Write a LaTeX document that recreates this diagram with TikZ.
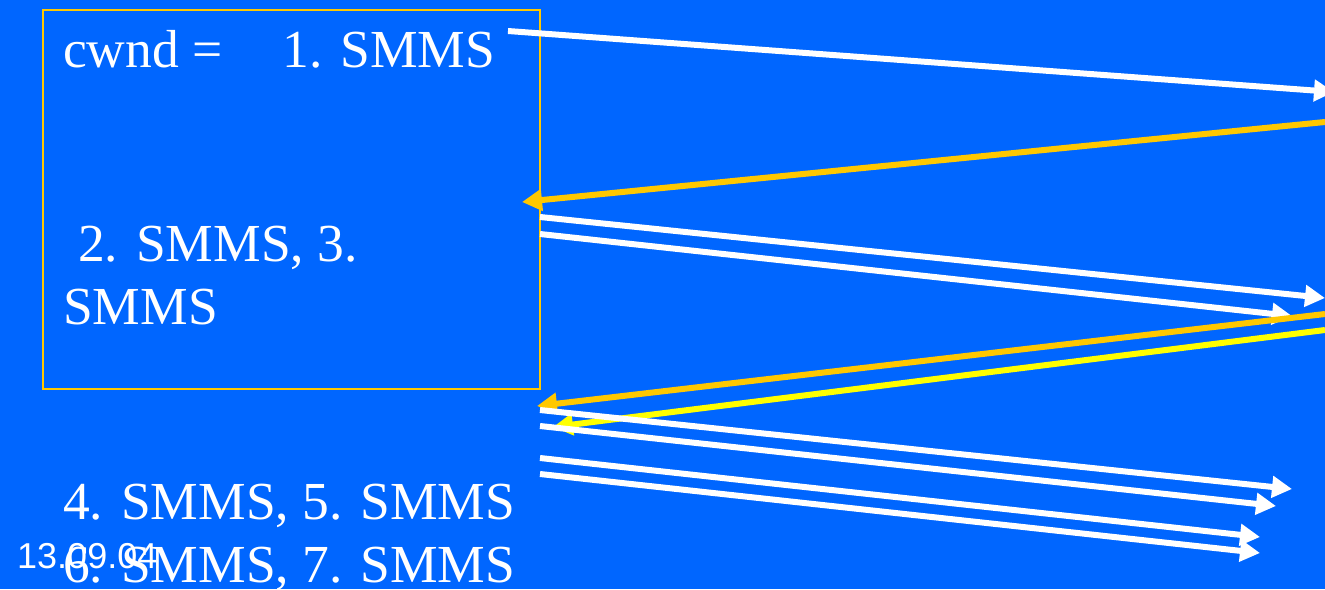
\documentclass[tikz,border=0pt]{standalone}
\usepackage{fontspec}
\setmainfont{Liberation Serif}
\newfontfamily\datefont{Liberation Sans}
\usetikzlibrary{arrows.meta}
\definecolor{bgblue}{HTML}{0066FF}
\definecolor{goldline}{HTML}{FFC800}
\definecolor{yelline}{HTML}{FFFF00}
\tikzset{
  seg/.style={line width=6pt, -{Triangle[length=20pt,width=21pt]}},
  wseg/.style={seg, white},
  gseg/.style={seg, goldline},
  yseg/.style={seg, yelline},
  txt/.style={anchor=base west, inner sep=0pt, text=white, font=\fontsize{53.5}{63}\selectfont},
}
\begin{document}
\begin{tikzpicture}[x=1pt,y=-1pt]
\fill[bgblue] (0,0) rectangle (1325,589);
\useasboundingbox (0,0) rectangle (1325,589);
\draw[goldline, line width=1.5pt] (43,10) rectangle (540,389);
\node[txt] (t1) at (63,67) {cwnd =\hspace{60pt}1. SMMS};
\node[txt] (t2) at (63,261) {\hspace{15pt}2. SMMS, 3.};
\node[txt] (t3) at (63,324) {SMMS};
\node[txt] (t4) at (63,519) {4. SMMS, 5. SMMS};
\node[txt] (t5) at (63,582) {6. SMMS, 7. SMMS};
\node[anchor=base west, inner sep=0pt, text=white, font=\datefont\fontsize{36}{40}\selectfont] (date) at (17,568) {13.09.04};
% end points
\coordinate (a1) at (508,31);   \coordinate (b1) at (1334,92);
\coordinate (a2) at (1325,122); \coordinate (b2) at (522,202);
\coordinate (a3) at (540,217);  \coordinate (b3) at (1325,298);
\coordinate (a4) at (540,234);  \coordinate (b4) at (1292,316);
\coordinate (a5) at (1325,314); \coordinate (b5) at (537,406);
\coordinate (a6) at (1325,330); \coordinate (b6) at (553,427);
\coordinate (a7) at (540,410);  \coordinate (b7) at (1292,489);
\coordinate (a8) at (540,426);  \coordinate (b8) at (1276,506);
\coordinate (a9) at (540,458);  \coordinate (b9) at (1260,537);
\coordinate (a10) at (540,474); \coordinate (b10) at (1260,553);
\draw[wseg] (a1) -- (b1);
\draw[gseg] (a2) -- (b2);
\draw[wseg] (a3) -- (b3);
\draw[wseg] (a4) -- (b4);
\draw[gseg] (a5) -- (b5);
\draw[yseg] (a6) -- (b6);
\draw[wseg] (a7) -- (b7);
\draw[wseg] (a8) -- (b8);
\draw[wseg] (a9) -- (b9);
\draw[wseg] (a10) -- (b10);
\end{tikzpicture}
\end{document}
